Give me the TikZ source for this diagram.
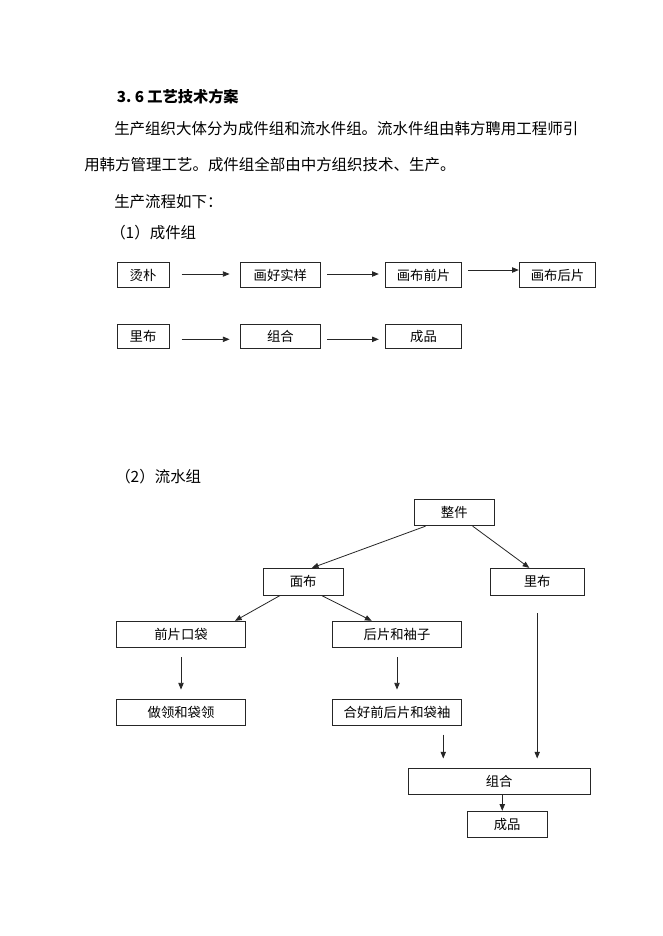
\documentclass[tikz,border=0pt]{standalone}
\usepackage{fontspec}
\setmainfont{Noto Sans CJK SC}
\usetikzlibrary{arrows.meta}
\begin{document}
\begin{tikzpicture}[x=0.75pt,y=-0.75pt,
  box/.style={draw=black!85, line width=0.75pt, inner sep=0pt, font=\fontsize{10}{12}\selectfont},
  arr/.style={-{Triangle[length=5pt,width=4pt]}, line width=0.6pt, draw=black!85},
  txt/.style={anchor=west, inner sep=0pt, font=\fontsize{11.6}{13}\selectfont}]
\useasboundingbox[fill=white] (0,0) rectangle (662,936);

% text
\node[txt, font=\fontsize{11.4}{13}\selectfont\bfseries] (title) at (116.7,96.7) {3.\hspace{2.5pt}6\hspace{2.5pt}工艺技术方案};
\node[txt] (l1) at (114,129) {生产组织大体分为成件组和流水件组。流水件组由韩方聘用工程师引};
\node[txt] (l2) at (84,164.3) {用韩方管理工艺。成件组全部由中方组织技术、生产。};
\node[txt] (l3) at (114,201.7) {生产流程如下：};
\node[txt] (l4) at (110,233) {（1）成件组};
\node[txt] (l5) at (115,476.7) {（2）流水组};

% part 1 boxes
\node[box, minimum width=39pt, minimum height=18.5pt] (a1) at (143,275) {烫朴};
\node[box, minimum width=60.5pt, minimum height=18.5pt] (a2) at (280.4,275) {画好实样};
\node[box, minimum width=57.3pt, minimum height=18.5pt] (a3) at (423.5,275) {画布前片};
\node[box, minimum width=57.3pt, minimum height=18.5pt] (a4) at (557.5,275) {画布后片};
\node[box, minimum width=39pt, minimum height=18.5pt] (b1) at (143,336.5) {里布};
\node[box, minimum width=60.5pt, minimum height=18.5pt] (b2) at (280.4,336.5) {组合};
\node[box, minimum width=57.3pt, minimum height=18.5pt] (b3) at (423.5,336.5) {成品};

\draw[arr] ([xshift=9pt,yshift=0.75pt]a1.east) -- ([xshift=-7.5pt,yshift=0.75pt]a2.west);
\draw[arr] ([xshift=4.5pt,yshift=0.75pt]a2.east) -- ([xshift=-4.5pt,yshift=0.75pt]a3.west);
\draw[arr] ([xshift=4.2pt,yshift=3.75pt]a3.east) -- ([yshift=3.75pt]a4.west);
\draw[arr] ([xshift=9pt,yshift=-2.1pt]b1.east) -- ([xshift=-7.5pt,yshift=-2.1pt]b2.west);
\draw[arr] ([xshift=4.5pt,yshift=-2.1pt]b2.east) -- ([xshift=-4.5pt,yshift=-2.1pt]b3.west);

% part 2 boxes
\node[box, minimum width=60pt, minimum height=19.3pt] (zj) at (454.3,512.8) {整件};
\node[box, minimum width=60.3pt, minimum height=20pt] (mb) at (303.2,581.7) {面布};
\node[box, minimum width=70.3pt, minimum height=20pt] (lb) at (537.2,581.7) {里布};
\node[box, minimum width=96.5pt, minimum height=19.5pt] (qp) at (181,634.3) {前片口袋};
\node[box, minimum width=96.5pt, minimum height=19.5pt] (hp) at (397,634.3) {后片和袖子};
\node[box, minimum width=96.5pt, minimum height=19.7pt] (zl) at (181,712.2) {做领和袋领};
\node[box, minimum width=96.5pt, minimum height=19.7pt] (hh) at (397,712.2) {合好前后片和袋袖};
\node[box, minimum width=136.3pt, minimum height=19.5pt] (zh) at (499.2,781.3) {组合};
\node[box, minimum width=60.2pt, minimum height=19.5pt] (cp) at (507.2,824.3) {成品};

\draw[arr] ([xshift=8.8pt]zj.south west) -- ([xshift=6.5pt]mb.north);
\draw[arr] ([xshift=13.8pt]zj.south) -- ([xshift=-5.9pt]lb.north);
\draw[arr] ([xshift=-17.4pt]mb.south) -- ([xshift=40.5pt]qp.north);
\draw[arr] ([xshift=13.9pt]mb.south) -- ([xshift=-19pt]hp.north);
\draw[arr] ([yshift=-7pt]qp.south) -- ([yshift=6.75pt]zl.north);
\draw[arr] ([yshift=-7pt]hp.south) -- ([yshift=6.75pt]hh.north);
\coordinate (p1) at ([xshift=34.7pt,yshift=-6.5pt]hh.south);
\coordinate (p2) at ([yshift=7pt]zh.north);
\draw[arr] (p1) -- (p1 |- p2);
\coordinate (p3) at ([yshift=-13.3pt]lb.south);
\draw[arr] (p3) -- (p3 |- p2);
\coordinate (p4) at ([xshift=2.3pt]zh.south);
\draw[arr] (p4) -- (p4 |- cp.north);
\end{tikzpicture}
\end{document}
